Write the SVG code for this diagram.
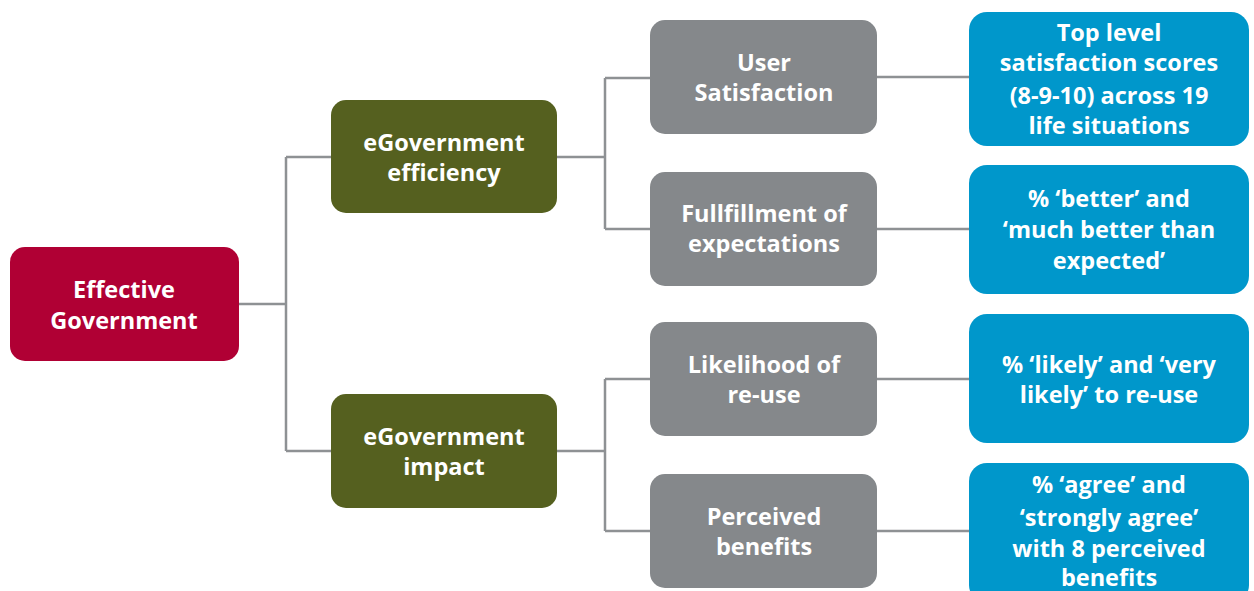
<svg xmlns="http://www.w3.org/2000/svg" width="1254" height="591" viewBox="0 0 1254 591">
<style>
.n text{font-family:"Open Sans","Liberation Sans",sans-serif;font-weight:bold;font-size:23.5px;fill:#fff;text-anchor:middle}
.red{fill:#b00034}
.olive{fill:#55601f}
.gray{fill:#85888b}
.blue{fill:#0097cb}
.c{fill:none;stroke:#8e9194;stroke-width:2.5}
</style>
<rect width="1254" height="591" fill="#fff"/>
<g id="connectors">
<path class="c" d="M239 304H286M286 157V451M286 157H331M286 451H331"/>
<path class="c" d="M557 157H605M605 78V229M605 78H650M605 229H650"/>
<path class="c" d="M557 451H605M605 379V531M605 379H650M605 531H650"/>
<path class="c" d="M877 77H969M877 229H969M877 379H969M877 531H969"/>
</g>
<g id="effective" class="n"><rect class="red" x="10" y="247" width="229" height="114" rx="15"/><text x="124" y="298">Effective</text><text x="124" y="329">Government</text></g>
<g id="efficiency" class="n"><rect class="olive" x="331" y="100" width="226" height="113" rx="15"/><text x="444" y="151">eGovernment</text><text x="444" y="181">efficiency</text></g>
<g id="impact" class="n"><rect class="olive" x="331" y="394" width="226" height="114" rx="15"/><text x="444" y="445">eGovernment</text><text x="444" y="475">impact</text></g>
<g id="satisfaction" class="n"><rect class="gray" x="650" y="20" width="227" height="114" rx="15"/><text x="764" y="71">User</text><text x="764" y="101">Satisfaction</text></g>
<g id="fulfillment" class="n"><rect class="gray" x="650" y="172" width="227" height="114" rx="15"/><text x="764" y="222">Fullfillment of</text><text x="764" y="252">expectations</text></g>
<g id="likelihood" class="n"><rect class="gray" x="650" y="322" width="227" height="114" rx="15"/><text x="764" y="373">Likelihood of</text><text x="764" y="403">re-use</text></g>
<g id="perceived" class="n"><rect class="gray" x="650" y="474" width="227" height="114" rx="15"/><text x="764" y="525">Perceived</text><text x="764" y="555">benefits</text></g>
<g id="m1" class="n"><rect class="blue" x="969" y="12" width="280" height="134" rx="18"/><text x="1109" y="41">Top level</text><text x="1109" y="71">satisfaction  scores</text><text x="1109" y="104">(8-9-10) across 19</text><text x="1109" y="134">life situations</text></g>
<g id="m2" class="n"><rect class="blue" x="969" y="165" width="280" height="129" rx="18"/><text x="1109" y="207">% ‘better’ and</text><text x="1109" y="238">‘much better than</text><text x="1109" y="269">expected’</text></g>
<g id="m3" class="n"><rect class="blue" x="969" y="314" width="280" height="129" rx="18"/><text x="1109" y="373">% ‘likely’  and  ‘very</text><text x="1109" y="403">likely’ to re-use</text></g>
<g id="m4" class="n"><rect class="blue" x="969" y="463" width="280" height="140" rx="18"/><text x="1109" y="493">% ‘agree’ and</text><text x="1109" y="526">‘strongly agree’</text><text x="1109" y="557">with 8 perceived</text><text x="1109" y="586">benefits</text></g>
</svg>
